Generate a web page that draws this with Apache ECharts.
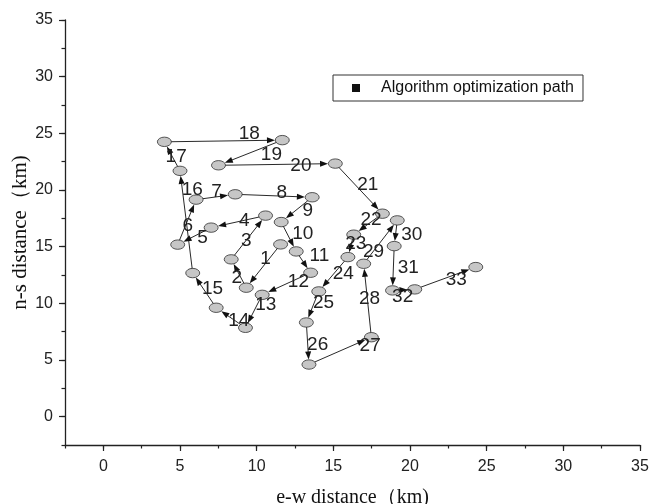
<!DOCTYPE html>
<html>
<head>
<meta charset="utf-8">
<script src="https://cdn.jsdelivr.net/npm/echarts@6/dist/echarts.min.js"></script>
<style>html,body{margin:0;padding:0;background:#fff}#c{width:651px;height:504px}</style>
</head>
<body>
<div id="c"></div>
<script>
// Path points (km), in visiting order
const pathX = [11.56, 9.32, 8.34, 10.58, 7.03, 4.85, 6.05, 8.60, 13.62, 11.60, 12.58, 13.52, 10.36, 9.27, 7.36, 5.83, 5.00, 3.98, 11.67, 7.51, 15.13, 18.20, 16.33, 15.95, 14.05, 13.24, 13.41, 17.48, 16.98, 19.17, 18.97, 18.86, 20.31, 24.29];
const pathY = [15.20, 11.38, 13.88, 17.74, 16.68, 15.18, 19.15, 19.62, 19.36, 17.17, 14.58, 12.70, 10.75, 7.84, 9.61, 12.67, 21.69, 24.25, 24.40, 22.18, 22.33, 17.91, 16.06, 14.08, 11.05, 8.31, 4.60, 7.01, 13.49, 17.32, 15.05, 11.14, 11.23, 13.20];
const xTicks = [0, 5, 10, 15, 20, 25, 30, 35];
const yTicks = [0, 5, 10, 15, 20, 25, 30, 35];
const seriesName = 'Algorithm optimization path';
const xName = 'e-w distance（km)';
const yName = 'n-s distance（km)';

// label placement (pixel offsets from segment midpoint) - style only
const labelDx = [2,-2,-2,6,8,1,1,8,11,14,16,12,12,8,8,6,4,26,21,24,9,3,5,10,11,10,30,2,-7,16,15,-1,11];
const labelDy = [-7,4,3,-1,2,4,-5,-3,1,-3,-6,-2,-7,3,-2,-32,0,-7,2,1,-4,-4,-2,0,-4,1,-5,-2,10,2,0,7,2];

const X_MIN = -2.5, X_MAX = 35, Y_MIN = -2.5, Y_MAX = 35;
const G = {left: 65, right: 11, top: 20, bottom: 59};
const W = 651, H = 504;
const pxX = (W - G.left - G.right) / (X_MAX - X_MIN);
const pxY = (H - G.top - G.bottom) / (Y_MAX - Y_MIN);
const offX = (0 - X_MIN) * pxX, offY = (0 - Y_MIN) * pxY;

const points = pathX.map((x, i) => [x, pathY[i]]);
const segs = [];
for (let i = 1; i < points.length; i++) segs.push([pathX[i-1], pathY[i-1], pathX[i], pathY[i]]);

const RX = 7, RY = 4.7;
const axisColor = '#222';
const chart = echarts.init(document.getElementById('c'));
chart.setOption({
  animation: false,
  backgroundColor: '#fff',
  grid: [
    {left: G.left, right: G.right, top: G.top, bottom: G.bottom, containLabel: false, outerBoundsMode: 'none'},
    {left: G.left + offX, right: G.right, top: G.top, bottom: G.bottom + offY, containLabel: false, outerBoundsMode: 'none'}
  ],
  legend: {
    data: [{name: seriesName, icon: 'rect', itemStyle: {color: '#111'}}],
    left: 333, top: 75, itemWidth: 8, itemHeight: 8,
    padding: [5, 9, 5, 19], borderColor: '#333', borderWidth: 1,
    textStyle: {fontFamily: 'Liberation Sans', fontSize: 16, color: '#111', padding: [0, 0, 0, 16]}
  },
  xAxis: [
    {gridIndex: 0, type: 'value', min: X_MIN, max: X_MAX, interval: 2.5,
     axisLine: {show: true, onZero: false, lineStyle: {color: axisColor, width: 1.3}},
     axisTick: {show: true, length: 3.5, lineStyle: {color: axisColor, width: 1.2}},
     axisLabel: {show: false}, splitLine: {show: false},
     name: xName, nameLocation: 'middle', nameGap: 43,
     nameTextStyle: {fontFamily: 'Liberation Serif', fontSize: 20, color: '#111'}},
    {gridIndex: 1, type: 'value', min: xTicks[0], max: xTicks[xTicks.length-1], interval: 5, offset: offY,
     axisLine: {show: false, onZero: false},
     axisTick: {show: true, length: 6, lineStyle: {color: axisColor, width: 1.2}},
     axisLabel: {fontFamily: 'Liberation Sans', fontSize: 16, color: '#222', margin: 14},
     splitLine: {show: false}}
  ],
  yAxis: [
    {gridIndex: 0, type: 'value', min: Y_MIN, max: Y_MAX, interval: 2.5,
     axisLine: {show: true, onZero: false, lineStyle: {color: axisColor, width: 1.3}},
     axisTick: {show: true, length: 3.5, lineStyle: {color: axisColor, width: 1.2}},
     axisLabel: {show: false}, splitLine: {show: false},
     name: yName, nameLocation: 'middle', nameGap: 34,
     nameTextStyle: {fontFamily: 'Liberation Serif', fontSize: 21, color: '#111'}},
    {gridIndex: 1, type: 'value', min: yTicks[0], max: yTicks[yTicks.length-1], interval: 5, offset: offX,
     axisLine: {show: false, onZero: false},
     axisTick: {show: true, length: 6, lineStyle: {color: axisColor, width: 1.2}},
     axisLabel: {fontFamily: 'Liberation Sans', fontSize: 16, color: '#222', margin: 12},
     splitLine: {show: false}}
  ],
  series: [
    {type: 'scatter', name: 'points', xAxisIndex: 0, yAxisIndex: 0, data: points,
     symbol: 'circle', symbolSize: [RX*2, RY*2], z: 2,
     itemStyle: {color: '#c6c6c6', borderColor: '#333', borderWidth: 0.8, opacity: 1}},
    {type: 'custom', name: seriesName, xAxisIndex: 0, yAxisIndex: 0, data: segs, z: 3,
     itemStyle: {color: '#111'},
     renderItem: function (params, api) {
       const p1 = api.coord([api.value(0), api.value(1)]);
       const p2 = api.coord([api.value(2), api.value(3)]);
       const dx = p2[0]-p1[0], dy = p2[1]-p1[1], L = Math.hypot(dx, dy);
       const ux = dx/L, uy = dy/L;
       const r = 1/Math.sqrt((ux/RX)*(ux/RX) + (uy/RY)*(uy/RY));
       const s = [p1[0]+ux*r, p1[1]+uy*r];
       const e = [p2[0]-ux*(r+0.3), p2[1]-uy*(r+0.3)];
       const AL = 8, AW = 3;
       const b = [e[0]-ux*AL, e[1]-uy*AL];
       const i = params.dataIndex;
       return {type: 'group', children: [
         {type: 'line', shape: {x1: s[0], y1: s[1], x2: b[0]+ux*1, y2: b[1]+uy*1}, style: {stroke: '#111', lineWidth: 0.9}},
         {type: 'polygon', shape: {points: [e, [b[0]-uy*AW, b[1]+ux*AW], [b[0]+uy*AW, b[1]-ux*AW]]}, style: {fill: '#111'}},
         {type: 'text', style: {text: String(i+1), x: (p1[0]+p2[0])/2 + labelDx[i], y: (p1[1]+p2[1])/2 + labelDy[i],
           fill: '#222', font: '19px "Liberation Sans"', align: 'center', verticalAlign: 'middle'}}
       ]};
     }}
  ]
});
</script>
</body>
</html>
